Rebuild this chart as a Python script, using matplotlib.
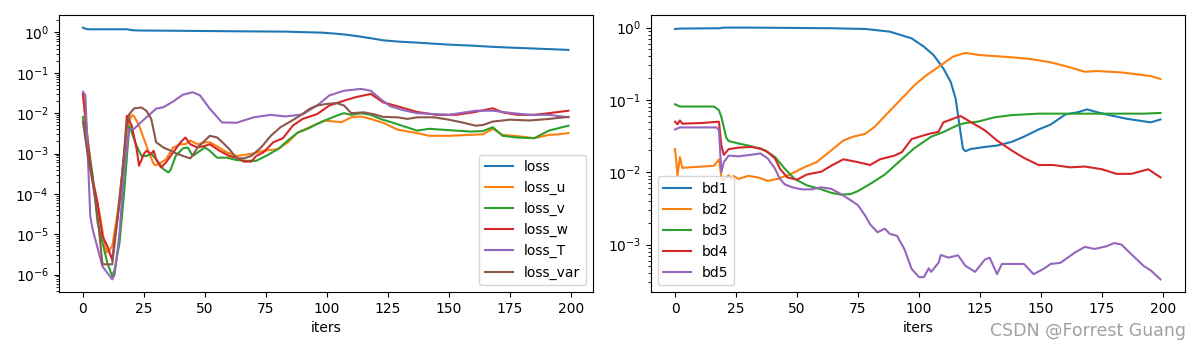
import matplotlib
matplotlib.use("Agg")
import matplotlib.pyplot as plt

# ---------------- left panel data ----------------
loss_x = [0, 1, 2, 10, 18, 20, 23, 40, 63, 83, 90, 98, 103, 108, 113, 118, 123, 130, 137, 150, 160, 168, 176, 185, 192, 199]
loss_y = [1.32, 1.24, 1.2, 1.2, 1.2, 1.14, 1.12, 1.10, 1.07, 1.05, 1.02, 0.99, 0.94, 0.88, 0.80, 0.72, 0.64, 0.59, 0.56,
          0.50, 0.47, 0.44, 0.42, 0.40, 0.385, 0.37]

loss_u_x = [0, 2, 4, 7, 9, 10, 12, 14, 16, 18, 20, 21, 23, 25, 27, 29, 30, 32, 34, 37, 40, 42, 44, 47, 50, 52, 55, 59,
            63, 69, 74, 80, 84, 88, 93, 99, 103, 106, 110, 114, 118, 123, 129, 137, 142, 150, 159, 164, 168, 172, 178,
            185, 191, 195, 199]
loss_u_y = [0.030, 1.29e-3, 1.9e-4, 2.8e-5, 5.1e-6, 3.5e-6, 5.1e-6, 2.8e-5, 2.8e-4, 4.1e-3, 9.1e-3, 8.3e-3, 4.9e-3,
            2.3e-3, 1.07e-3, 5.5e-4, 5.1e-4, 6.0e-4, 7.2e-4, 1.41e-3, 1.7e-3, 1.7e-3, 2.1e-3, 1.7e-3, 1.9e-3, 1.9e-3,
            1.5e-3, 1.07e-3, 8.7e-4, 9.8e-4, 1.17e-3, 1.29e-3, 1.9e-3, 3.3e-3, 4.5e-3, 6.6e-3, 6.2e-3, 6.0e-3, 7.9e-3,
            8.3e-3, 7.2e-3, 5.8e-3, 3.9e-3, 3.2e-3, 2.75e-3, 2.75e-3, 2.9e-3, 3.0e-3, 4.1e-3, 2.9e-3, 2.7e-3, 2.4e-3,
            2.9e-3, 3.0e-3, 3.2e-3]

loss_v_x = [0, 2, 4, 6, 8, 10, 12, 13, 15, 17, 19, 20, 22, 24, 26, 28, 30, 33, 35, 36, 38, 41, 43, 45, 48, 50, 52, 55,
            59, 63, 67, 71, 75, 80, 84, 88, 92, 96, 100, 104, 107, 110, 114, 118, 122, 127, 137, 142, 150, 159, 164,
            168, 172, 178, 185, 191, 199]
loss_v_y = [8.0e-3, 1.9e-3, 2.8e-4, 1.95e-5, 6.2e-6, 1.95e-6, 9.1e-7, 1.35e-6, 6.2e-6, 1.3e-4, 4.9e-3, 3.3e-3, 1.55e-3,
            8.7e-4, 8.7e-4, 9.8e-4, 7.2e-4, 4.1e-4, 3.4e-4, 4.0e-4, 8.7e-4, 1.35e-3, 1.41e-3, 8.7e-4, 1.17e-3, 1.41e-3,
            1.17e-3, 7.9e-4, 7.9e-4, 6.9e-4, 6.6e-4, 6.6e-4, 8.7e-4, 1.29e-3, 2.1e-3, 3.3e-3, 4.1e-3, 5.4e-3, 6.9e-3,
            8.7e-3, 0.010, 9.1e-3, 0.010, 9.1e-3, 7.2e-3, 5.8e-3, 3.7e-3, 4.1e-3, 3.8e-3, 3.5e-3, 3.6e-3, 4.5e-3,
            2.75e-3, 2.5e-3, 2.4e-3, 3.7e-3, 4.9e-3]

loss_w_x = [0, 1, 3, 4, 6, 8, 10, 12, 13, 15, 17, 18, 20, 22, 23, 25, 26, 28, 29, 30, 32, 34, 37, 40, 42, 44, 47, 50,
            52, 56, 60, 63, 66, 69, 71, 74, 78, 82, 86, 90, 96, 101, 107, 112, 118, 123, 129, 137, 145, 153, 160, 168,
            172, 178, 185, 191, 199]
loss_w_y = [0.030, 8.7e-3, 5.0e-4, 2.3e-4, 6.0e-5, 8.9e-6, 5.1e-6, 2.3e-6, 7.4e-6, 6.0e-5, 1.29e-3, 8.7e-3, 4.9e-3,
            1.29e-3, 5.0e-4, 9.8e-4, 1.17e-3, 9.8e-4, 1.17e-3, 7.2e-4, 4.5e-4, 6.0e-4, 1.07e-3, 1.9e-3, 2.5e-3, 1.7e-3,
            1.41e-3, 1.55e-3, 1.7e-3, 1.17e-3, 8.7e-4, 7.9e-4, 6.3e-4, 6.3e-4, 8.7e-4, 1.07e-3, 1.9e-3, 2.4e-3, 4.9e-3,
            7.2e-3, 9.5e-3, 0.0155, 0.0204, 0.0251, 0.030, 0.0186, 0.0148, 0.0107, 9.1e-3, 9.1e-3, 0.0105, 0.0132,
            0.0105, 9.1e-3, 9.1e-3, 0.010, 0.0115]

loss_T_x = [0, 1, 3, 4, 8, 10, 12, 13, 15, 17, 19, 21, 23, 26, 30, 33, 37, 41, 45, 48, 52, 57, 63, 70, 77, 83, 90, 96,
            101, 107, 114, 118, 122, 126, 131, 137, 150, 161, 168, 175, 183, 191, 199]
loss_T_y = [0.034, 0.0275, 2.8e-5, 1.3e-5, 1.6e-6, 1.1e-6, 7.6e-7, 1.0e-6, 1.1e-5, 5.0e-4, 4.0e-3, 4.1e-3, 5.4e-3,
            7.9e-3, 0.0129, 0.0141, 0.0195, 0.0288, 0.033, 0.0275, 0.0129, 5.9e-3, 5.8e-3, 7.9e-3, 9.1e-3, 8.3e-3,
            9.3e-3, 0.0155, 0.0275, 0.036, 0.040, 0.036, 0.0224, 0.0148, 0.012, 0.010, 9.1e-3, 0.0115, 0.0115, 0.0102,
            9.1e-3, 9.1e-3, 7.9e-3]

loss_var_x = [0, 2, 4, 6, 8, 10, 12, 14, 16, 18, 19, 21, 24, 26, 28, 30, 33, 36, 38, 41, 44, 45, 47, 50, 52, 55, 58, 60,
              63, 66, 69, 73, 77, 81, 85, 89, 93, 96, 100, 104, 107, 110, 115, 119, 123, 129, 133, 137, 144, 150, 156,
              161, 164, 168, 175, 183, 191, 199]
loss_var_y = [6.2e-3, 8.7e-4, 1.9e-4, 2.8e-5, 1.8e-6, 1.8e-6, 1.8e-6, 1.95e-5, 2.8e-4, 4.9e-3, 9.5e-3, 0.0132, 0.0138,
              0.0115, 7.2e-3, 1.9e-3, 1.41e-3, 1.17e-3, 1.02e-3, 8.7e-4, 7.6e-4, 9.1e-4, 1.41e-3, 2.1e-3, 2.75e-3,
              2.5e-3, 1.7e-3, 1.29e-3, 7.6e-4, 7.6e-4, 8.7e-4, 1.41e-3, 2.75e-3, 4.5e-3, 6.2e-3, 8.7e-3, 0.0129, 0.0155,
              0.017, 0.0178, 0.0155, 0.010, 0.0105, 9.5e-3, 8.1e-3, 7.9e-3, 7.2e-3, 7.9e-3, 7.9e-3, 6.9e-3, 5.8e-3,
              4.9e-3, 5.1e-3, 6.2e-3, 6.9e-3, 6.6e-3, 7.2e-3, 8.1e-3]

# ---------------- right panel data ----------------
bd1_x = [0, 2, 18, 20, 31, 64, 78, 88, 97, 102, 106, 110, 113, 115, 116, 117, 118, 119, 121, 127, 132, 138, 143, 149,
         154, 160, 165, 169, 173, 178, 185, 195, 199]
bd1_y = [0.957, 0.97, 0.98, 1.0, 1.0, 0.98, 0.957, 0.88, 0.71, 0.545, 0.417, 0.272, 0.178, 0.105, 0.062, 0.036, 0.0214,
         0.0195, 0.0209, 0.0224, 0.0234, 0.0263, 0.031, 0.039, 0.0457, 0.063, 0.0676, 0.074, 0.0676, 0.0617, 0.055,
         0.049, 0.0537]

bd2_x = [0, 1, 2, 3, 6, 16, 18, 19, 20, 22, 23, 24, 26, 30, 34, 38, 42, 47, 53, 58, 64, 69, 73, 78, 82, 87, 93, 98, 103,
         109, 114, 119, 125, 138, 146, 154, 161, 168, 173, 183, 195, 199]
bd2_y = [0.021, 0.0091, 0.0162, 0.0115, 0.0117, 0.0123, 0.0151, 0.0085, 0.0078, 0.0091, 0.0079, 0.0089, 0.0081, 0.0089,
         0.0085, 0.0076, 0.0081, 0.0093, 0.0117, 0.0138, 0.020, 0.0275, 0.031, 0.034, 0.043, 0.065, 0.105, 0.158,
         0.219, 0.302, 0.398, 0.447, 0.417, 0.389, 0.367, 0.331, 0.288, 0.245, 0.251, 0.24, 0.214, 0.195]

bd3_x = [0, 2, 16, 18, 19, 20, 21, 22, 26, 31, 37, 41, 45, 49, 54, 60, 64, 68, 72, 75, 80, 86, 91, 98, 105, 110, 116,
         119, 124, 131, 138, 149, 165, 178, 192, 199]
bd3_y = [0.087, 0.081, 0.081, 0.072, 0.058, 0.042, 0.030, 0.027, 0.025, 0.023, 0.020, 0.0162, 0.0112, 0.0081, 0.0066,
         0.0058, 0.0052, 0.0049, 0.0050, 0.0055, 0.0069, 0.0093, 0.0132, 0.0214, 0.031, 0.036, 0.045, 0.048, 0.050,
         0.0575, 0.0617, 0.0646, 0.0646, 0.0646, 0.0646, 0.066]

bd4_x = [0, 1, 2, 3, 11, 18, 19, 20, 22, 26, 31, 35, 38, 41, 43, 46, 50, 54, 60, 64, 69, 75, 80, 84, 90, 93, 97, 101,
         104, 108, 110, 114, 117, 121, 127, 132, 138, 143, 149, 155, 162, 168, 175, 181, 187, 194, 199]
bd4_y = [0.050, 0.046, 0.052, 0.047, 0.048, 0.050, 0.0234, 0.0174, 0.0209, 0.0219, 0.0224, 0.0214, 0.019, 0.0155,
         0.0112, 0.0085, 0.0079, 0.0093, 0.0102, 0.0123, 0.0151, 0.0138, 0.0126, 0.0151, 0.017, 0.019, 0.0288, 0.0316,
         0.0339, 0.0363, 0.049, 0.055, 0.060, 0.050, 0.038, 0.0275, 0.020, 0.0158, 0.0126, 0.0126, 0.0117, 0.012,
         0.011, 0.0095, 0.0095, 0.011, 0.0085]

bd5_x = [0, 2, 17, 18, 19, 20, 22, 26, 31, 35, 38, 41, 43, 45, 48, 52, 56, 60, 64, 68, 72, 75, 78, 80, 83, 86, 88, 91,
         94, 97, 100, 102, 104, 105, 108, 109, 112, 116, 119, 123, 127, 129, 132, 134, 138, 143, 147, 151, 154, 158,
         164, 168, 172, 177, 180, 183, 187, 192, 195, 199]
bd5_y = [0.039, 0.0417, 0.0417, 0.038, 0.010, 0.0138, 0.017, 0.0166, 0.0174, 0.0182, 0.0155, 0.0112, 0.0081, 0.0068,
         0.0062, 0.0058, 0.0058, 0.0062, 0.0059, 0.0050, 0.0041, 0.0035, 0.0025, 0.0019, 0.00148, 0.00166, 0.00141,
         0.00132, 0.00087, 0.00046, 0.000355, 0.000355, 0.00047, 0.00042, 0.00056, 0.00072, 0.00066, 0.00071, 0.00051,
         0.00042, 0.00062, 0.00066, 0.00039, 0.00054, 0.00054, 0.00054, 0.00039, 0.00046, 0.00054, 0.00056, 0.00078,
         0.00093, 0.00087, 0.00095, 0.00105, 0.0010, 0.00074, 0.00051, 0.00044, 0.00033]

left_series = [("loss", loss_x, loss_y), ("loss_u", loss_u_x, loss_u_y), ("loss_v", loss_v_x, loss_v_y),
               ("loss_w", loss_w_x, loss_w_y), ("loss_T", loss_T_x, loss_T_y), ("loss_var", loss_var_x, loss_var_y)]
right_series = [("bd1", bd1_x, bd1_y), ("bd2", bd2_x, bd2_y), ("bd3", bd3_x, bd3_y),
                ("bd4", bd4_x, bd4_y), ("bd5", bd5_x, bd5_y)]

fig = plt.figure(figsize=(12, 3.5), dpi=100)
ax1 = fig.add_axes([0.0489, 0.1657, 0.445, 0.7914])
ax2 = fig.add_axes([0.5423, 0.1657, 0.445, 0.7914])

for name, xs, ys in left_series:
    ax1.plot(xs, ys, label=name)
ax1.set_yscale("log")
ax1.set_xlabel("iters")
ax1.legend(loc="lower right")

for name, xs, ys in right_series:
    ax2.plot(xs, ys, label=name)
ax2.set_yscale("log")
ax2.set_xlabel("iters")
ax2.legend(loc="lower left")

fig.text(0.988, 0.03, "CSDN @Forrest Guang", ha="right", va="bottom", fontsize=12.5, color="#a0a0a0")

fig.savefig("out.png", dpi=100)
